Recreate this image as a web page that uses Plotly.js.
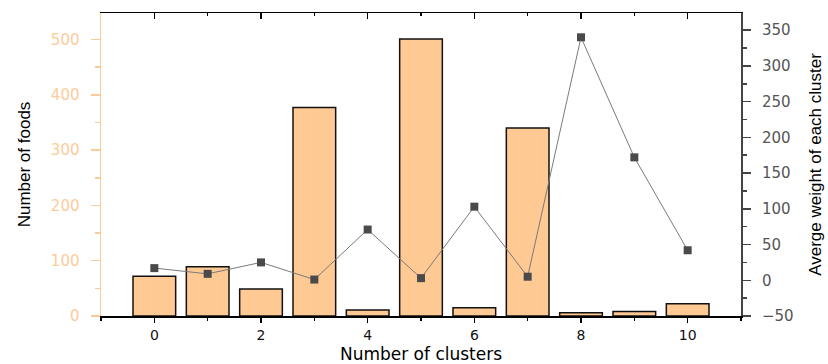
<!DOCTYPE html>
<html>
<head>
<meta charset="utf-8">
<script src="https://cdn.plot.ly/plotly-3.0.1.min.js"></script>
<style>html,body{margin:0;padding:0;background:#fff;} #chart{width:828px;height:364px;}</style>
</head>
<body>
<div id="chart"></div>
<script>
const clusters = [0, 1, 2, 3, 4, 5, 6, 7, 8, 9, 10];
const foodCounts = [72, 89, 49, 377, 11, 501, 15, 340, 6, 8, 22];
const avgWeights = [17, 9, 25, 1, 71, 3, 103, 5, 340, 172, 42];
const xTickVals = [0, 2, 4, 6, 8, 10];
const leftTickVals = [0, 100, 200, 300, 400, 500];
const rightTickVals = [-50, 0, 50, 100, 150, 200, 250, 300, 350];

const peach = '#FFC994';
const peachAxis = '#FDCB9A';
const narrow = '"Liberation Sans Narrow", "Arial Narrow", "Liberation Sans", Arial, sans-serif';
const wide = '"DejaVu Sans", Verdana, sans-serif';

const traces = [
  {
    type: 'bar', x: clusters, y: foodCounts, width: 0.8,
    marker: {color: peach, line: {color: '#111', width: 1.5}},
    xaxis: 'x', yaxis: 'y', hoverinfo: 'x+y'
  },
  {
    type: 'scatter', mode: 'lines+markers', x: clusters, y: avgWeights,
    line: {color: '#7a7a7a', width: 1},
    marker: {symbol: 'square', size: 8, color: '#4a4a4a'},
    xaxis: 'x', yaxis: 'y2', hoverinfo: 'x+y'
  },
  {
    type: 'scatter', mode: 'none', x: [clusters[0]], y: [avgWeights[0]],
    xaxis: 'x2', yaxis: 'y2', hoverinfo: 'skip', showlegend: false
  }
];

const layout = {
  width: 828, height: 364,
  margin: {l: 101, r: 87, t: 13, b: 48},
  paper_bgcolor: '#fff', plot_bgcolor: '#fff',
  showlegend: false,
  bargap: 0.2,
  xaxis: {
    range: [-1, 11], tickvals: xTickVals, ticktext: xTickVals.map(String),
    ticks: 'outside', ticklen: 5, tickwidth: 1.5, tickcolor: '#000',
    minor: {dtick: 1, tick0: 1, ticks: 'outside', ticklen: 3, tickwidth: 1.5, tickcolor: '#000', showgrid: false},
    ticklabelstandoff: 1,
    showline: true, linecolor: '#000', linewidth: 1.5,
    showgrid: false, zeroline: false,
    tickfont: {family: wide, size: 14, color: '#111'},
    title: {text: 'Number of clusters', font: {family: wide, size: 17, color: '#000'}, standoff: 9}
  },
  xaxis2: {
    overlaying: 'x', side: 'top', range: [-1, 11], tickvals: xTickVals,
    ticks: 'inside', ticklen: 6, tickwidth: 1.5, tickcolor: '#000',
    minor: {dtick: 1, tick0: 1, ticks: 'inside', ticklen: 3, tickwidth: 1.5, tickcolor: '#000', showgrid: false},
    showticklabels: false, showline: true, linecolor: '#000', linewidth: 1.5,
    showgrid: false, zeroline: false
  },
  yaxis: {
    range: [0, 548], tickvals: leftTickVals,
    ticks: 'outside', ticklen: 9, tickwidth: 1.5, tickcolor: peachAxis,
    minor: {dtick: 50, ticks: 'outside', ticklen: 5, tickwidth: 1.5, tickcolor: peachAxis, showgrid: false},
    ticklabelstandoff: 8,
    showline: true, linecolor: peachAxis, linewidth: 1.5,
    showgrid: false, zeroline: false,
    tickfont: {family: wide, size: 15, color: peachAxis},
    title: {text: 'Number of foods', font: {family: narrow, size: 17, color: '#000'}, standoff: 16}
  },
  yaxis2: {
    overlaying: 'y', side: 'right', range: [-50, 374], tickvals: rightTickVals,
    ticks: 'outside', ticklen: 8, tickwidth: 1.5, tickcolor: '#444',
    minor: {dtick: 25, tick0: -50, ticks: 'outside', ticklen: 4, tickwidth: 1.5, tickcolor: '#444', showgrid: false},
    ticklabelstandoff: 8,
    showline: true, linecolor: '#444', linewidth: 2,
    showgrid: false, zeroline: false,
    tickfont: {family: wide, size: 15, color: '#555'},
    title: {text: 'Averge weight of each cluster', font: {family: narrow, size: 17, color: '#000'}, standoff: 16}
  }
};

Plotly.newPlot('chart', traces, layout, {displayModeBar: false, staticPlot: true});
</script>
</body>
</html>
